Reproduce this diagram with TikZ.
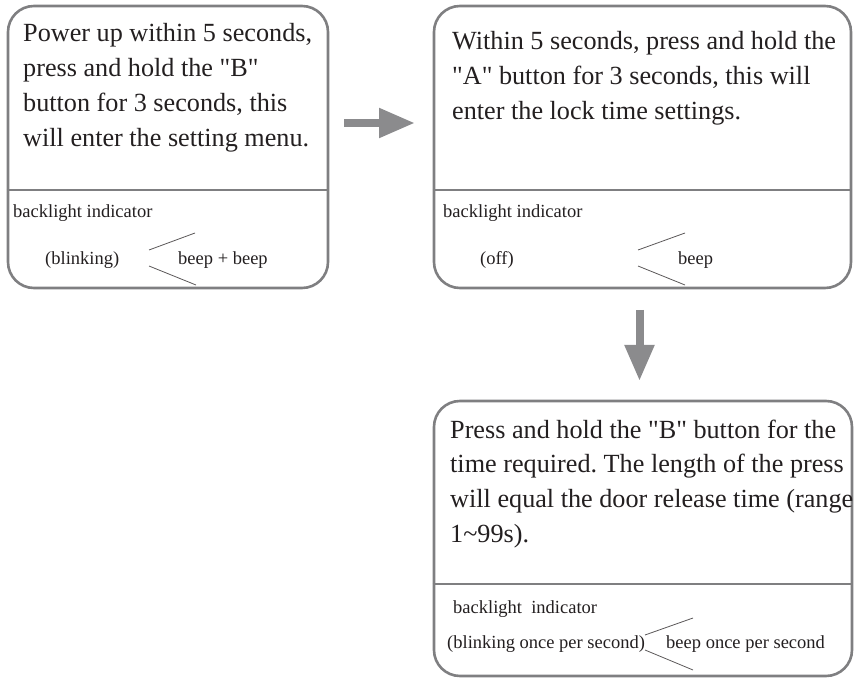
\documentclass[tikz,border=0pt]{standalone}
\usepackage{fontspec}
\setmainfont{Liberation Serif}
\usepackage{tikz}
\usetikzlibrary{arrows.meta, positioning}
\definecolor{Frame}{HTML}{7F7F81}
\definecolor{Flow}{HTML}{8B8B8D}
\definecolor{Ink}{HTML}{231F20}
\frenchspacing
\newcommand{\bigtext}[1]{\parbox[t]{430pt}{\fontsize{26.2}{35}\selectfont\raggedright #1}}
\newcommand{\qq}{\textquotedbl}

\begin{document}
\begin{tikzpicture}[x=1pt, y=-1pt,
  stepbox/.style={draw=Frame, line width=2.6pt, rounded corners=26pt,
                  rectangle, inner sep=0pt},
  divider/.style={draw=Frame, line width=1.8pt},
  body/.style={anchor=base west, inner sep=0pt, text=Ink},
  small/.style={anchor=base west, inner sep=0pt, text=Ink,
                font=\fontsize{18.5}{22}\selectfont},
  chevron/.style={draw=Ink!75, line width=0.8pt},
  flow/.style={draw=Flow, line width=8pt, -{Triangle[length=36pt, width=28pt]}}]
  \useasboundingbox (0,0) rectangle (855,679);

  % the three steps
  \node[stepbox, minimum width=320pt, minimum height=282pt] (stepA) at (168,147) {};
  \node[stepbox, minimum width=417pt, minimum height=282pt] (stepB) at (642.5,147) {};
  \node[stepbox, minimum width=418pt, minimum height=275pt] (stepC) at (643,538.5) {};

  \draw[divider] (stepA.west |- 0,190) -- (stepA.east |- 0,190);
  \draw[divider] (stepB.west |- 0,190) -- (stepB.east |- 0,190);
  \draw[divider] (stepC.west |- 0,584) -- (stepC.east |- 0,584);

  \node[body] (textA) at (23,42) {\bigtext{Power up within 5 seconds,\\
    press and hold the \qq B\qq\\ button for 3 seconds, this\\ will enter the setting menu.}};
  \node[body] (textB) at (452,50) {\bigtext{Within 5 seconds, press and hold the\\
    \qq A\qq{} button for 3 seconds, this will\\ enter the lock time settings.}};
  \node[body] (textC) at (450,438) {\bigtext{Press and hold the \qq B\qq{} button for the\\
    time required. The length of the press\\ will equal the door release time (range\\ 1\textasciitilde 99s).}};

  % indicator rows
  \node[small] (lightA) at (13,218) {backlight indicator};
  \node[small] (stateA) at (45,265) {(blinking)};
  \node[small] (soundA) at (178,265) {beep + beep};
  \draw[chevron] (195,233) -- (149,250) (149,266) -- (196,285);

  \node[small] (lightB) at (443,218) {backlight indicator};
  \node[small] (stateB) at (480,265) {(off)};
  \node[small] (soundB) at (678,265) {beep};
  \draw[chevron] (685,233) -- (638,250) (638,266) -- (685,285);

  \node[small] (lightC) at (453,613) {backlight\ \ indicator};
  \node[small] (stateC) at (447,648) {(blinking once per second)};
  \node[small] (soundC) at (666,648) {beep once per second};
  \draw[chevron] (693,618) -- (645,635) (645,650) -- (693,670);

  % arrows between steps
  \coordinate (outA) at (344,123);
  \coordinate (inB) at (415,123);
  \coordinate (outB) at (639.5,310);
  \coordinate (inC) at (639.5,381);
  \draw[flow] (outA) -- (inB);
  \draw[flow] (outB) -- (inC);
\end{tikzpicture}
\end{document}
